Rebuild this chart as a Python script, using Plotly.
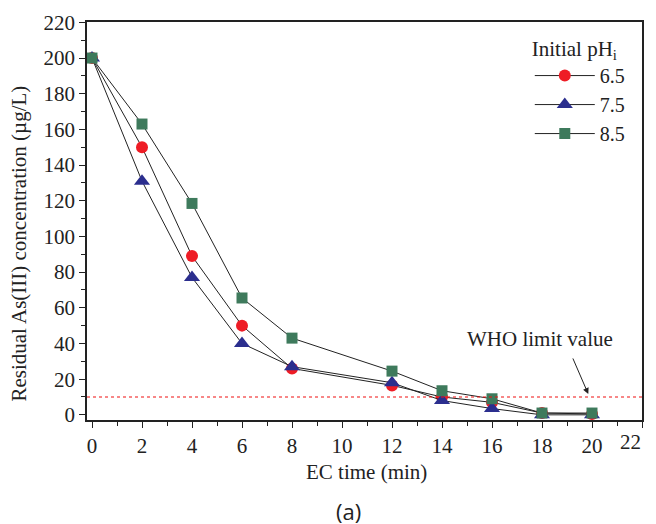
import plotly.graph_objects as go

time_min = [0, 2, 4, 6, 8, 12, 14, 16, 18, 20]
ph_65 = [200, 150, 89, 50, 26, 16.5, 10, 7, 1, 0.5]
ph_75 = [200, 131, 77, 40, 27, 18, 8, 3.5, 0, 0]
ph_85 = [200, 163, 118.5, 65.5, 43, 24.5, 13.5, 9, 1, 1]
series_names = ["6.5", "7.5", "8.5"]
x_tick_values = [0, 2, 4, 6, 8, 10, 12, 14, 16, 18, 20]
x_last_tick = 22
who_limit = 10

font = "Liberation Serif, Times New Roman, serif"
fs = 21

fig = go.Figure()
styles = [
    ("circle", "#ee1c25", 12),
    ("triangle-up", "#2b2e8e", 14),
    ("square", "#3e7a5c", 11),
]
for name, vals, (sym, col, sz) in zip(series_names, [ph_65, ph_75, ph_85], styles):
    fig.add_trace(go.Scatter(
        x=time_min, y=vals, name=name, mode="lines+markers",
        line=dict(color="#222222", width=1),
        marker=dict(symbol=sym, color=col, size=sz, line=dict(width=0)),
    ))

fig.add_trace(go.Scatter(
    x=[-0.2, 22], y=[who_limit, who_limit], mode="lines",
    line=dict(color="#f01010", width=1.2, dash="dot"), showlegend=False, hoverinfo="skip",
))

fig.add_annotation(
    x=19.85, y=who_limit + 1.7, ax=-16, ay=-37, xref="x", yref="y",
    text="", showarrow=True, arrowhead=2, arrowsize=1.2, arrowwidth=1, arrowcolor="#222",
)
fig.add_annotation(
    x=17.9, y=42.6, xref="x", yref="y", xanchor="center", yanchor="middle",
    text="WHO limit value", showarrow=False, font=dict(family=font, size=fs, color="#222"),
)
fig.add_annotation(
    x=x_last_tick, y=-0.0553, xref="x", yref="paper", xanchor="right", yanchor="middle",
    text=str(x_last_tick), showarrow=False, font=dict(family=font, size=fs, color="#222"),
    xshift=1,
)
fig.add_annotation(
    x=0.503, y=-0.131, xref="paper", yref="paper", xanchor="center", yanchor="middle",
    text="EC time (min)", showarrow=False, font=dict(family=font, size=fs, color="#222"),
)
fig.add_annotation(
    x=-0.1216, y=0.442, xref="paper", yref="paper", xanchor="center", yanchor="middle",
    text="Residual As(III) concentration (µg/L)", textangle=-90, showarrow=False,
    font=dict(family=font, size=fs, color="#222"),
)
fig.add_annotation(
    x=0.472, y=-0.229, xref="paper", yref="paper", xanchor="center", yanchor="middle",
    text="(a)", showarrow=False,
    font=dict(family="Open Sans, sans-serif", size=22, color="#222"),
)

axis_common = dict(
    showline=True, linecolor="#222", linewidth=1.5, mirror=True,
    ticks="outside", ticklen=6, tickwidth=1.2, tickcolor="#222",
    showgrid=False, zeroline=False, automargin=False,
    tickfont=dict(family=font, size=fs, color="#222"),
    minor=dict(ticks="outside", ticklen=4, tickwidth=1, tickcolor="#222", showgrid=False),
)

fig.update_layout(
    width=648, height=516,
    margin=dict(l=79, r=14, t=14, b=104, autoexpand=False),
    paper_bgcolor="white", plot_bgcolor="white",
    font=dict(family=font, color="#222"),
    xaxis=dict(range=[-0.2, 22], tickvals=x_tick_values + [x_last_tick],
               ticktext=[str(v) for v in x_tick_values] + [""], **axis_common),
    yaxis=dict(range=[-2.9, 220.2], dtick=20, tick0=0, **axis_common),
    legend=dict(
        x=0.978, y=0.983, xanchor="right", yanchor="top",
        title=dict(text="Initial pH<sub>i</sub>", font=dict(family=font, size=fs), side="top"),
        font=dict(family=font, size=20), bgcolor="rgba(0,0,0,0)", borderwidth=0,
        tracegroupgap=0, itemwidth=60,
    ),
    showlegend=True,
)
fig.update_xaxes(minor=dict(dtick=1, tick0=0))
fig.update_yaxes(minor=dict(dtick=10))

fig.write_html("out.html")
